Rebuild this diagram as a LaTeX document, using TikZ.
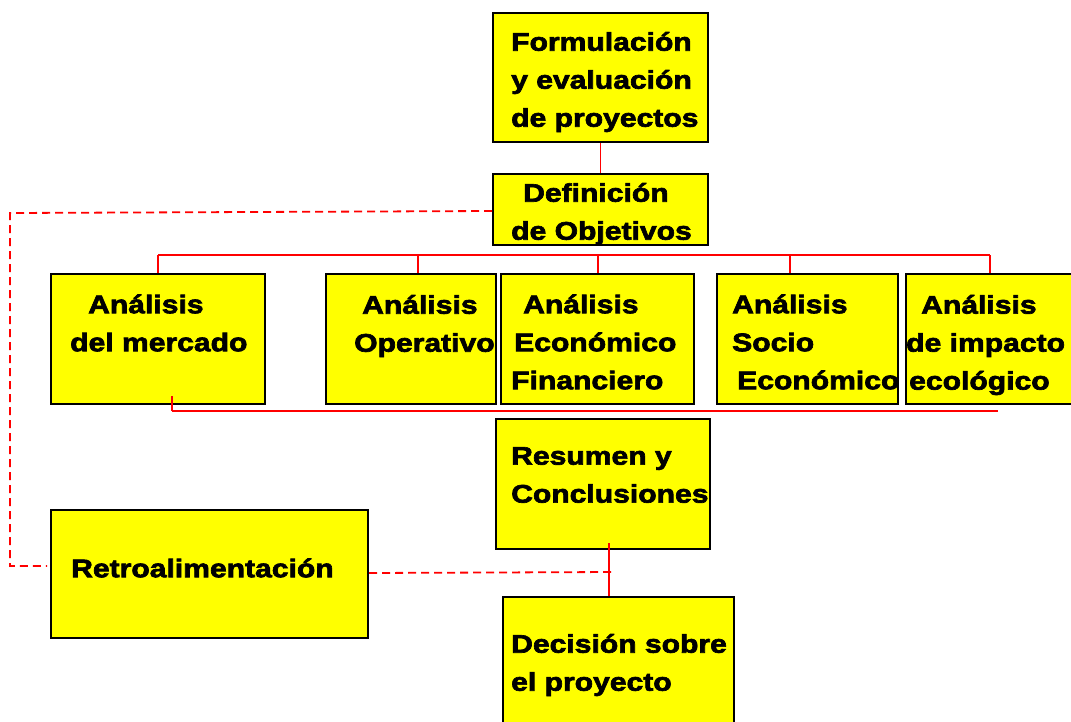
\documentclass[tikz,border=0pt]{standalone}
\usepackage{fontspec}
\setmainfont{Liberation Sans}[BoldFont={Liberation Sans Bold},BoldFeatures={FakeStretch=1.18,FakeBold=2.6}]
\definecolor{ylw}{RGB}{255,255,0}
\definecolor{rd}{RGB}{255,0,0}
\begin{document}
\begin{tikzpicture}[x=1pt,y=-1pt,
  box/.style={draw=black, line width=2pt, fill=ylw, anchor=north west, inner sep=0pt},
  txt/.style={anchor=west, align=left, inner sep=0pt, font=\bfseries\fontsize{25.5}{38}\selectfont},
  link/.style={draw=rd, line width=1.8pt},
  dlink/.style={draw=rd, line width=1.8pt, dash pattern=on 8pt off 5pt}]
\useasboundingbox (0,0) rectangle (1071,721);
% boxes
\node[box, minimum width=215pt, minimum height=129pt] (top) at (492,12) {};
\node[box, minimum width=215pt, minimum height=71pt] (def) at (492,173) {};
\node[box, minimum width=214pt, minimum height=130pt] (mer) at (50,273) {};
\node[box, minimum width=170pt, minimum height=130pt] (ope) at (325,273) {};
\node[box, minimum width=193pt, minimum height=130pt] (eco) at (500,273) {};
\node[box, minimum width=181pt, minimum height=130pt] (soc) at (716,273) {};
\node[box, minimum width=172pt, minimum height=130pt] (imp) at (905,273) {};
\node[box, minimum width=214pt, minimum height=130pt] (res) at (495,418) {};
\node[box, minimum width=317pt, minimum height=128pt] (ret) at (50,509) {};
\node[box, minimum width=231pt, minimum height=130pt] (dec) at (502,596) {};
% texts
\node[txt] (ttop) at (511,82) {Formulación\\y evaluación\\de proyectos};
\node[txt] (tdef) at (511,214) {\hspace*{12pt}Definición\\de Objetivos};
\node[txt] (tmer) at (70,323) {\hspace*{18pt}Análisis\\del mercado};
\node[txt] (tope) at (354,326) {\hspace*{8pt}Análisis\\Operativo};
\node[txt] (teco) at (511,342) {\hspace*{12pt}Análisis\\\hspace*{3pt}Económico\\Financiero};
\node[txt] (tsoc) at (732,342) {Análisis\\Socio\\\hspace*{5pt}Económico};
\node[txt] (timp) at (906,345) {\hspace*{15pt}Análisis\\de impacto\\\hspace*{3pt}ecológico};
\node[txt] (tres) at (511,475) {Resumen y\\Conclusiones};
\node[txt] (tret) at (71,568) {Retroalimentación};
\node[txt] (tdec) at (511,665) {Decisión sobre\\el proyecto};
% connectors
\draw[link] (top.south) -- (def.north);
\coordinate (b1) at (158,255);
\coordinate (b2) at (418,255);
\coordinate (b3) at (598,255);
\coordinate (b4) at (790,255);
\coordinate (b5) at (990,255);
\draw[link] (b1) -- (b5);
\draw[link] (b1) -- (b1 |- mer.north);
\draw[link] (b2) -- (b2 |- ope.north);
\draw[link] (b3) -- (b3 |- eco.north);
\draw[link] (b4) -- (b4 |- soc.north);
\draw[link] (b5) -- (b5 |- imp.north);
\coordinate (l1) at (172,411);
\coordinate (l2) at (998,411);
\coordinate (lt) at (172,396);
\draw[link] (l1) -- (l2);
\draw[link] (lt) -- (l1);
\coordinate (r1) at (609,543);
\draw[link] (r1) -- (r1 |- dec.north);
\coordinate (r2) at (613,572);
\draw[dlink] (ret.east |- 0,573) -- (r2);
\coordinate (d1) at (10,213);
\coordinate (d2) at (10,566);
\coordinate (d3) at (47,566);
\draw[dlink] (def.west |- 0,211) -- (d1) -- (d2) -- (d3);
\end{tikzpicture}
\end{document}
